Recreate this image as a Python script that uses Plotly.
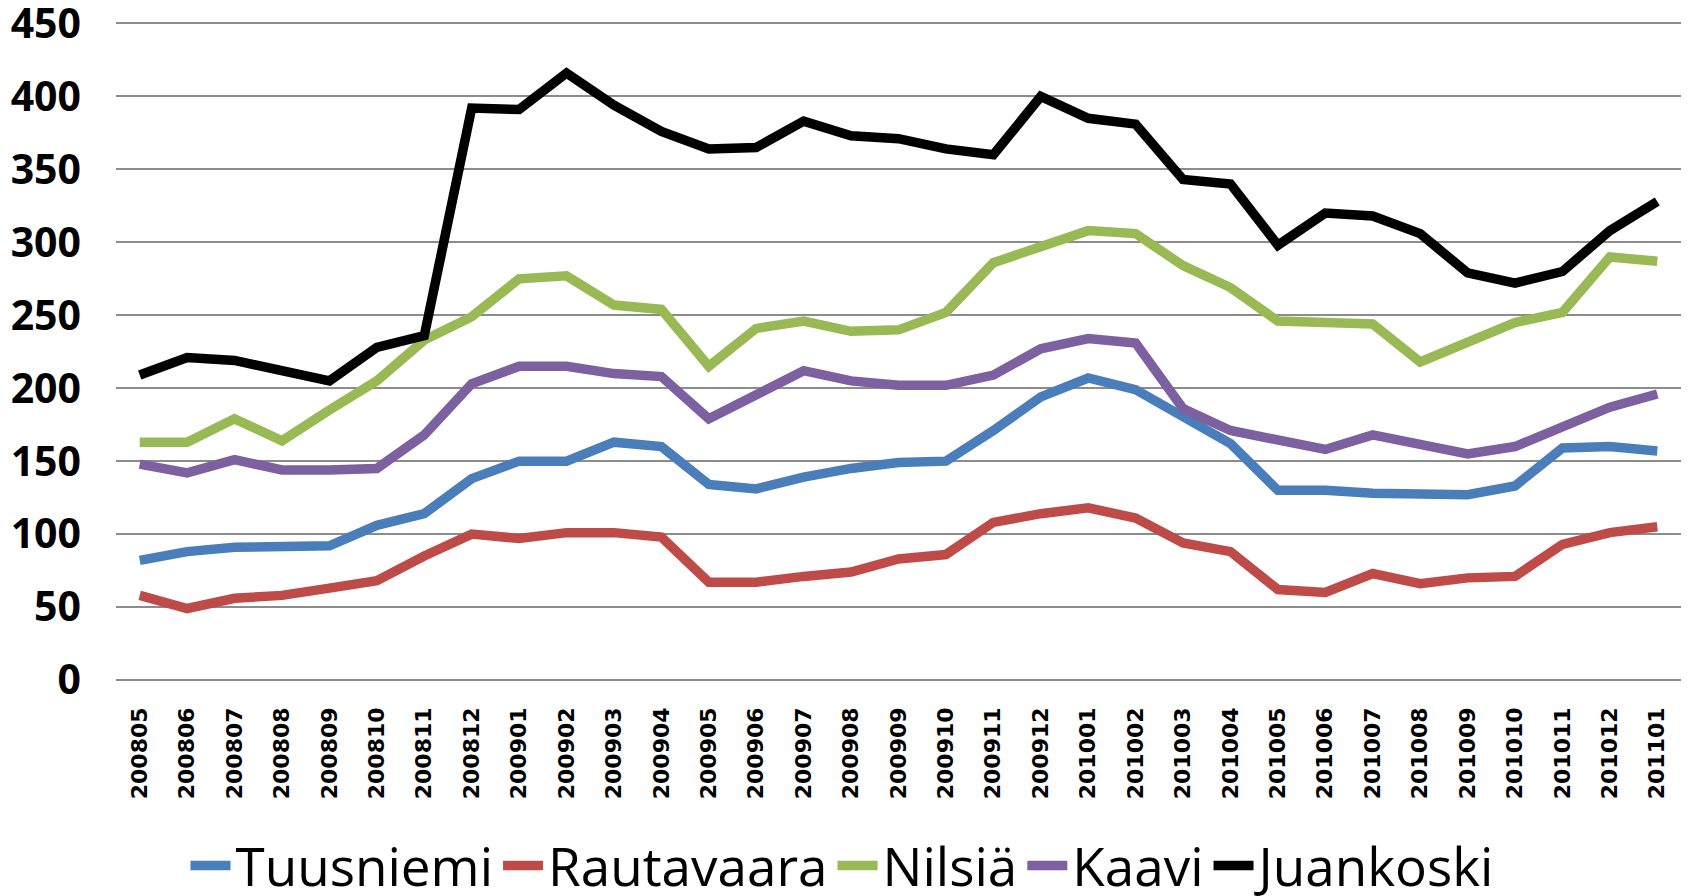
import plotly.graph_objects as go

months = ["200805", "200806", "200807", "200808", "200809", "200810", "200811", "200812",
          "200901", "200902", "200903", "200904", "200905", "200906", "200907", "200908",
          "200909", "200910", "200911", "200912", "201001", "201002", "201003", "201004",
          "201005", "201006", "201007", "201008", "201009", "201010", "201011", "201012",
          "201101"]

tuusniemi = [82, 88, 91, 91, 92, 106, 114, 138, 150, 150, 163, 160, 134, 131, 139, 145,
             149, 150, 171, 194, 207, 199, 181, 162, 130, 130, 128, 128, 127, 133, 159, 160,
             157]
rautavaara = [58, 49, 56, 58, 63, 68, 85, 100, 97, 101, 101, 98, 67, 67, 71, 74,
              83, 86, 108, 114, 118, 111, 94, 88, 62, 60, 73, 66, 70, 71, 93, 101,
              105]
nilsia = [163, 163, 179, 164, 185, 205, 233, 249, 275, 277, 257, 254, 215, 241, 246, 239,
          240, 252, 286, 297, 308, 306, 284, 269, 246, 245, 244, 218, 231, 245, 252, 290,
          287]
kaavi = [148, 142, 151, 144, 144, 145, 168, 203, 215, 215, 210, 208, 179, 196, 212, 205,
         202, 202, 209, 227, 234, 231, 186, 171, 165, 158, 168, 161, 155, 160, 174, 187,
         196]
juankoski = [209, 221, 219, 212, 205, 228, 236, 392, 391, 416, 394, 376, 364, 365, 383, 373,
             371, 364, 360, 400, 385, 381, 343, 340, 298, 320, 318, 306, 279, 272, 280, 308,
             328]

series = [
    ("Tuusniemi", tuusniemi, "#4A7EBB"),
    ("Rautavaara", rautavaara, "#BE4B48"),
    ("Nilsiä", nilsia, "#98B954"),
    ("Kaavi", kaavi, "#7D60A0"),
    ("Juankoski", juankoski, "#000000"),
]

fig = go.Figure()
for name, values, color in series:
    fig.add_trace(go.Scatter(x=months, y=values, mode="lines", name=name,
                             line=dict(color=color, width=9.5)))

fig.update_layout(
    width=1689, height=896,
    margin=dict(l=116, r=8, t=22, b=216, autoexpand=False),
    plot_bgcolor="white", paper_bgcolor="white",
    legend=dict(orientation="h", xref="container", yref="container",
                x=0.5, xanchor="center", y=0.034, yanchor="middle",
                font=dict(family="Open Sans", size=53, color="black"),
                itemwidth=40, tracegroupgap=0),
)
fig.update_xaxes(type="category", range=[-0.5, 32.5], tickangle=-90,
                 showgrid=False, showline=False, ticks="", automargin=False,
                 ticklabelstandoff=22,
                 tickfont=dict(family="DejaVu Sans", size=22, color="black", weight="bold"))
fig.update_yaxes(range=[0, 451], tickvals=[0, 50, 100, 150, 200, 250, 300, 350, 400, 450],
                 showgrid=True, gridcolor="#8C8C8C", gridwidth=2,
                 zeroline=True, zerolinecolor="#8C8C8C", zerolinewidth=2,
                 showline=False, ticks="", ticklabelstandoff=34, automargin=False,
                 ticklabeloverflow="allow",
                 tickfont=dict(family="Open Sans", size=41, color="black", weight="bold"))

# drop the browser's default page margin so the figure fills the window
fig.write_html("out.html", config={"displayModeBar": False},
               post_script="document.body.style.margin='0';")
